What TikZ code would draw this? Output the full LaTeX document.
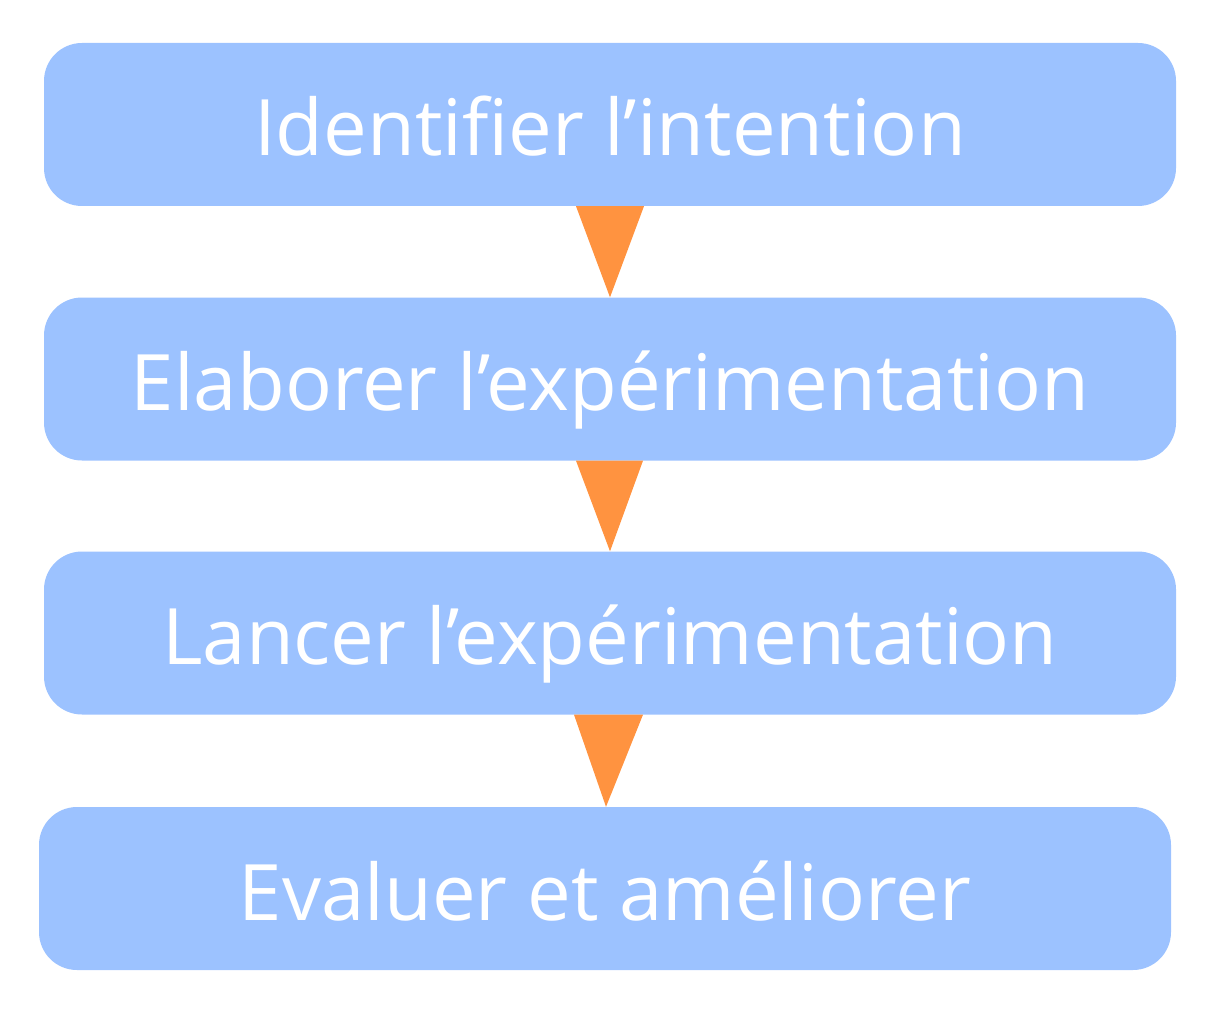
\documentclass[tikz,border=0pt]{standalone}
\usepackage{fontspec}
\setmainfont{Open Sans}
\definecolor{boxblue}{HTML}{9CC2FF}
\definecolor{arrorange}{HTML}{FF9340}
\begin{document}
\begin{tikzpicture}[x=1pt,y=-1pt,
  stepbox/.style={fill=boxblue, rounded corners=38pt, minimum width=1132pt, minimum height=163pt,
    inner sep=0pt, text=white, font=\fontsize{77.9}{90}\selectfont, text height=63pt, text depth=0pt},
  tri/.style={fill=arrorange}]
\useasboundingbox (0,0) rectangle (1205,1011);
\node[stepbox] (b1) at (610,124.5) {Identifier l’intention};
\node[stepbox] (b2) at (610,379) {Elaborer l’expérimentation};
\node[stepbox] (b3) at (610,633) {Lancer l’expérimentation};
\node[stepbox] (b4) at (605,888.5) {Evaluer et améliorer};
\fill[tri] ([xshift=-34pt]b1.south) -- ([xshift=34pt]b1.south) -- (b2.north) -- cycle;
\fill[tri] ([xshift=-34pt]b2.south) -- ([xshift=33pt]b2.south) -- (b3.north) -- cycle;
\fill[tri] ([xshift=-36pt]b3.south) -- ([xshift=33pt]b3.south) -- ([xshift=1pt]b4.north) -- cycle;
\end{tikzpicture}
\end{document}
